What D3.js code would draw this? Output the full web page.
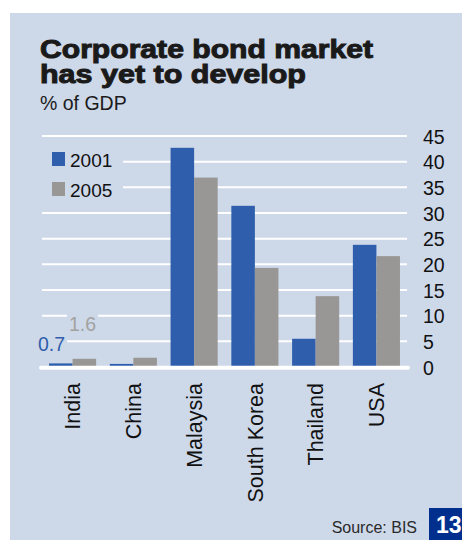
<!DOCTYPE html>
<html>
<head>
<meta charset="utf-8">
<script src="https://cdn.jsdelivr.net/npm/d3@7"></script>
<style>
  html, body { margin: 0; padding: 0; background: #ffffff; }
  svg { display: block; font-family: "Liberation Sans", Arial, Helvetica, sans-serif; }
</style>
</head>
<body>
<svg id="chart" width="462" height="540"></svg>
<script>
// Corporate bond market size, % of GDP
const countries = ["India", "China", "Malaysia", "South Korea", "Thailand", "USA"];
const years = ["2001", "2005"];
const values2001 = [0.7, 0.6, 42.7, 31.4, 5.5, 23.8];
const values2005 = [1.6, 1.8, 36.9, 19.3, 13.8, 21.6];
const yTicks = [0, 5, 10, 15, 20, 25, 30, 35, 40, 45];
const labelledCountry = "India";
const titleLines = ["Corporate bond market", "has yet to develop"];

const colors = { "2001": "#2f5fac", "2005": "#999795" };
const panelFill = "#cdd8e9";

const svg = d3.select("#chart");

// background panel
svg.append("rect")
  .attr("x", 10).attr("y", 13)
  .attr("width", 452).attr("height", 527)
  .attr("fill", panelFill);

// headline: one text element, one tspan per line, tight leading
const titleWidths = [333, 266];
const headline = svg.append("text")
  .attr("font-size", 26).attr("font-weight", "bold")
  .attr("fill", "#1b1a1a")
  .attr("stroke", "#1b1a1a").attr("stroke-width", 1);
titleLines.forEach((line, i) => {
  headline.append("tspan")
    .attr("x", 40).attr("y", 58 + i * 25)
    .attr("textLength", titleWidths[i])
    .attr("lengthAdjust", "spacingAndGlyphs")
    .text(line);
});
svg.append("text")
  .attr("x", 40).attr("y", 110)
  .attr("font-size", 19.5)
  .attr("fill", "#1b1a1a")
  .text("% of GDP");

// scales
const x0 = d3.scaleBand()
  .domain(countries)
  .range([42.2, 406.8])
  .paddingInner(0.225)
  .paddingOuter(0.1125);

const x1 = d3.scaleBand()
  .domain(years)
  .range([0, x0.bandwidth()])
  .padding(0);

const y = d3.scaleLinear()
  .domain([0, 45])
  .range([367, 136]);

// gridlines (behind bars)
const grid = svg.append("g");
grid.selectAll("line")
  .data(yTicks.filter(d => d > 0))
  .join("line")
  .attr("x1", 42).attr("x2", 407)
  .attr("y1", d => y(d)).attr("y2", d => y(d))
  .attr("stroke", "#ffffff")
  .attr("stroke-width", 2);

// legend (on its own panel-coloured backing so gridlines break around it)
const legend = svg.append("g");
legend.append("rect")
  .attr("x", 41).attr("y", 147)
  .attr("width", 82).attr("height", 55)
  .attr("fill", panelFill);
years.forEach((yr, i) => {
  const g = legend.append("g").attr("transform", `translate(52, ${152 + i * 30})`);
  g.append("rect")
    .attr("width", 13).attr("height", 14)
    .attr("fill", colors[yr]);
  g.append("text")
    .attr("x", 18).attr("y", 15)
    .attr("font-size", 19)
    .attr("fill", "#111111")
    .text(yr);
});

// bars
const rows = countries.map((c, i) => ({ country: c, "2001": values2001[i], "2005": values2005[i] }));

svg.append("g")
  .selectAll("g")
  .data(rows)
  .join("g")
  .attr("transform", d => `translate(${x0(d.country)},0)`)
  .selectAll("rect")
  .data(d => years.map(yr => ({ year: yr, value: d[yr] })))
  .join("rect")
  .attr("x", d => x1(d.year))
  .attr("width", x1.bandwidth())
  .attr("y", d => y(d.value))
  .attr("height", d => y(0) - y(d.value))
  .attr("fill", d => colors[d.year]);

// zero baseline, drawn over the bar feet
svg.append("line")
  .attr("x1", 41).attr("x2", 408)
  .attr("y1", y(0) + 0.8).attr("y2", y(0) + 0.8)
  .attr("stroke", "#ffffff")
  .attr("stroke-width", 4)
  .attr("stroke-linecap", "round");

// value labels for the smallest bars
const labelRow = rows.find(r => r.country === labelledCountry);
const valueLabels = [
  { year: "2001", value: labelRow["2001"], x: 38, y: 351, fill: "#2f5fac" },
  { year: "2005", value: labelRow["2005"], x: 69, y: 331, fill: "#a3a2a0" }
];
valueLabels.forEach(l => {
  const g = svg.append("g");
  const t = g.append("text")
    .attr("x", l.x).attr("y", l.y)
    .attr("font-size", 19.5)
    .attr("fill", l.fill)
    .text(d3.format(".1f")(l.value));
  const bb = t.node().getBBox();
  g.insert("rect", "text")
    .attr("x", bb.x - 2).attr("y", bb.y - 1)
    .attr("width", bb.width + 4).attr("height", bb.height + 2)
    .attr("fill", panelFill);
});

// y axis labels on the right
const yAxis = d3.axisRight(y)
  .tickValues(yTicks)
  .tickSize(0)
  .tickPadding(0)
  .tickFormat(d3.format("d"));

svg.append("g")
  .attr("transform", "translate(423,0)")
  .call(yAxis)
  .call(g => g.select(".domain").remove())
  .call(g => g.selectAll("text")
    .attr("font-family", "'Liberation Sans', Arial, sans-serif")
    .attr("font-size", 19.5)
    .attr("fill", "#111111")
    .attr("x", 0)
    .attr("dy", "0.36em"));

// rotated category labels
const xAxis = d3.axisBottom(x0).tickSize(0).tickPadding(0);
svg.append("g")
  .attr("transform", "translate(0,383)")
  .call(xAxis)
  .call(g => g.select(".domain").remove())
  .call(g => g.selectAll("text")
    .attr("font-family", "'Liberation Sans', Arial, sans-serif")
    .attr("font-size", 21.5)
    .attr("fill", "#111111")
    .attr("text-anchor", "end")
    .attr("transform", "rotate(-90)")
    .attr("x", 0).attr("y", 0)
    .attr("dy", "0.36em"));

// source note and page number
svg.append("text")
  .attr("x", 417).attr("y", 533)
  .attr("text-anchor", "end")
  .attr("font-size", 16)
  .attr("fill", "#2a2a2a")
  .text("Source: BIS");

svg.append("rect")
  .attr("x", 429).attr("y", 508)
  .attr("width", 33).attr("height", 32)
  .attr("fill", "#002f8e");
svg.append("text")
  .attr("x", 436).attr("y", 533)
  .attr("font-size", 23)
  .attr("font-weight", "bold")
  .attr("fill", "#ffffff")
  .text("13");
</script>
</body>
</html>
